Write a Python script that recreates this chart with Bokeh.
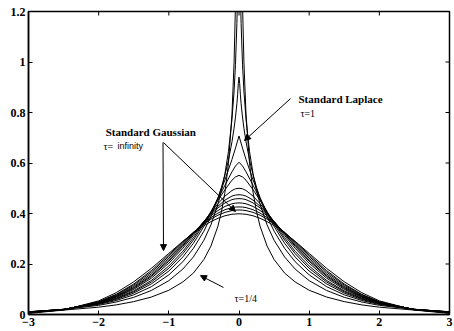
from bokeh.plotting import figure
from bokeh.models import Range1d, FixedTicker, Arrow, NormalHead, Label
from bokeh.embed import file_html
from bokeh.resources import INLINE

# ---------------- data ----------------
x_fine = [-3, -2.5, -2, -1.75, -1.5, -1.25, -1, -0.8, -0.65, -0.5, -0.4, -0.3, -0.25, -0.2, -0.15,
          -0.1, -0.07, -0.05, -0.03, -0.02, -0.01, 0, 0.01, 0.02, 0.03, 0.05, 0.07, 0.1, 0.15, 0.2,
          0.25, 0.3, 0.4, 0.5, 0.65, 0.8, 1, 1.25, 1.5, 1.75, 2, 2.5, 3]
x_coarse = [-3, -2.5, -2, -1.75, -1.5, -1.25, -1, -0.8, -0.65, -0.5, -0.4, -0.3, -0.2, -0.1, -0.05,
            0, 0.05, 0.1, 0.2, 0.3, 0.4, 0.5, 0.65, 0.8, 1, 1.25, 1.5, 1.75, 2, 2.5, 3]

# tau = 1/4, 1/2, 3/4 (on x_fine)
tau_1_4 = [0.0108, 0.0174, 0.029, 0.038, 0.051, 0.069, 0.096, 0.129, 0.164, 0.218, 0.271, 0.350,
           0.407, 0.484, 0.599, 0.793, 0.999, 1.231, 1.667, 2.102, 3.085, 4.47, 3.085, 2.102,
           1.667, 1.231, 0.999, 0.793, 0.599, 0.484, 0.407, 0.350, 0.271, 0.218, 0.164, 0.129,
           0.096, 0.069, 0.051, 0.038, 0.029, 0.0174, 0.0108]
tau_1_2 = [0.0111, 0.0198, 0.0363, 0.0495, 0.068, 0.095, 0.134, 0.180, 0.228, 0.294, 0.355, 0.437,
           0.491, 0.558, 0.646, 0.773, 0.885, 0.991, 1.153, 1.282, 1.503, 1.72, 1.503, 1.282,
           1.153, 0.991, 0.885, 0.773, 0.646, 0.558, 0.491, 0.437, 0.355, 0.294, 0.228, 0.180,
           0.134, 0.095, 0.068, 0.0495, 0.0363, 0.0198, 0.0111]
tau_3_4 = [0.0106, 0.0205, 0.0397, 0.0555, 0.078, 0.110, 0.157, 0.209, 0.262, 0.330, 0.388, 0.460,
           0.504, 0.553, 0.612, 0.684, 0.738, 0.782, 0.835, 0.870, 0.914, 0.94, 0.914, 0.870,
           0.835, 0.782, 0.738, 0.684, 0.612, 0.553, 0.504, 0.460, 0.388, 0.330, 0.262, 0.209,
           0.157, 0.110, 0.078, 0.0555, 0.0397, 0.0205, 0.0106]

# tau = 1 (Laplace) ... infinity (Gaussian) (on x_coarse)
tau_1 = [0.0102, 0.0206, 0.0418, 0.0595, 0.0848, 0.121, 0.172, 0.228, 0.282, 0.349, 0.402, 0.463,
         0.533, 0.614, 0.659, 0.707, 0.659, 0.614, 0.533, 0.463, 0.402, 0.349, 0.282, 0.228, 0.172,
         0.121, 0.0848, 0.0595, 0.0418, 0.0206, 0.0102]
tau_5_4 = [0.0097, 0.0206, 0.0432, 0.0624, 0.0898, 0.1285, 0.183, 0.241, 0.295, 0.3585, 0.406, 0.458,
           0.512, 0.565, 0.588, 0.603, 0.588, 0.565, 0.512, 0.458, 0.406, 0.3585, 0.295, 0.241,
           0.183, 0.1285, 0.0898, 0.0624, 0.0432, 0.0206, 0.0097]
tau_3_2 = [0.0093, 0.0205, 0.0443, 0.0647, 0.0937, 0.1345, 0.192, 0.2505, 0.304, 0.364, 0.407, 0.452,
           0.494, 0.532, 0.545, 0.551, 0.545, 0.532, 0.494, 0.452, 0.407, 0.364, 0.304, 0.2505,
           0.192, 0.1345, 0.0937, 0.0647, 0.0443, 0.0205, 0.0093]
tau_2 = [0.0087, 0.0202, 0.0458, 0.0679, 0.0996, 0.1436, 0.203, 0.2625, 0.313, 0.368, 0.404, 0.439,
         0.469, 0.491, 0.498, 0.500, 0.498, 0.491, 0.469, 0.439, 0.404, 0.368, 0.313, 0.2625, 0.203,
         0.1436, 0.0996, 0.0679, 0.0458, 0.0202, 0.0087]
tau_5_2 = [0.0082, 0.0200, 0.0468, 0.0703, 0.1038, 0.150, 0.211, 0.270, 0.319, 0.369, 0.400, 0.429,
           0.453, 0.469, 0.473, 0.4745, 0.473, 0.469, 0.453, 0.429, 0.400, 0.369, 0.319, 0.270,
           0.211, 0.150, 0.1038, 0.0703, 0.0468, 0.0200, 0.0082]
tau_3 = [0.0078, 0.0197, 0.0476, 0.0721, 0.107, 0.1545, 0.216, 0.274, 0.321, 0.368, 0.3965, 0.422,
         0.442, 0.455, 0.458, 0.459, 0.458, 0.455, 0.442, 0.422, 0.3965, 0.368, 0.321, 0.274, 0.216,
         0.1545, 0.107, 0.0721, 0.0476, 0.0197, 0.0078]
tau_4 = [0.0072, 0.0194, 0.0487, 0.0746, 0.1114, 0.1607, 0.223, 0.280, 0.324, 0.3656, 0.391, 0.412,
         0.428, 0.4385, 0.441, 0.442, 0.441, 0.4385, 0.428, 0.412, 0.391, 0.3656, 0.324, 0.280,
         0.223, 0.1607, 0.1114, 0.0746, 0.0487, 0.0194, 0.0072]
tau_6 = [0.0065, 0.0189, 0.0500, 0.0777, 0.1165, 0.1677, 0.2299, 0.2843, 0.3249, 0.3621, 0.3837,
         0.4016, 0.415, 0.4234, 0.4255, 0.426, 0.4255, 0.4234, 0.415, 0.4016, 0.3837, 0.3621,
         0.3249, 0.2843, 0.2299, 0.1677, 0.1165, 0.0777, 0.0500, 0.0189, 0.0065]
tau_10 = [0.0061, 0.0185, 0.0506, 0.0798, 0.1207, 0.1737, 0.2359, 0.2881, 0.3256, 0.359, 0.3778,
          0.3932, 0.4045, 0.4115, 0.4133, 0.414, 0.4133, 0.4115, 0.4045, 0.3932, 0.3778, 0.359,
          0.3256, 0.2881, 0.2359, 0.1737, 0.1207, 0.0798, 0.0506, 0.0185, 0.0061]
gaussian = [0.0044, 0.0175, 0.054, 0.0863, 0.1295, 0.1826, 0.242, 0.290, 0.323, 0.352, 0.368, 0.381,
            0.391, 0.397, 0.398, 0.399, 0.398, 0.397, 0.391, 0.381, 0.368, 0.352, 0.323, 0.290,
            0.242, 0.1826, 0.1295, 0.0863, 0.054, 0.0175, 0.0044]

fine_series = [tau_1_4, tau_1_2, tau_3_4]
coarse_series = [tau_1, tau_5_4, tau_3_2, tau_2, tau_5_2, tau_3, tau_4, tau_6, tau_10, gaussian]

x_ticks = [-3, -2, -1, 0, 1, 2, 3]
x_tick_labels = ["\u22123", "\u22122", "\u22121", "0", "1", "2", "3"]
y_ticks = [0, 0.2, 0.4, 0.6, 0.8, 1, 1.2]
y_tick_labels = ["0", "0.2", "0.4", "0.6", "0.8", "1", "1.2"]

X_MIN, X_MAX = -3, 3
Y_MIN, Y_MAX = 0, 1.2

# ---------------- figure ----------------
SERIF = "Liberation Serif"
SANS = "Liberation Sans"
W, H = 454, 331
B_LEFT, B_RIGHT, B_TOP, B_BOTTOM = 28, 5, 11, 17
TICK_PX = 4

p = figure(width=W, height=H, x_range=Range1d(X_MIN, X_MAX), y_range=Range1d(Y_MIN, Y_MAX),
           output_backend="svg", toolbar_location=None,
           min_border_left=B_LEFT, min_border_right=B_RIGHT,
           min_border_top=B_TOP, min_border_bottom=B_BOTTOM)
p.background_fill_color = "white"
p.border_fill_color = "white"
p.grid.visible = False
p.outline_line_color = "black"
p.outline_line_width = 1.5


def style_axis(ax, ticks, labels):
    ax.ticker = FixedTicker(ticks=ticks)
    ax.major_label_overrides = {t: l for t, l in zip(ticks, labels)}
    ax.major_tick_in = TICK_PX
    ax.major_tick_out = 0
    ax.minor_tick_line_color = None
    ax.axis_line_color = "black"
    ax.axis_line_width = 1.5
    ax.major_tick_line_color = "black"
    ax.major_tick_line_width = 1
    ax.major_label_text_font = SERIF
    ax.major_label_text_font_style = "bold"
    ax.major_label_text_color = "black"
    ax.major_label_text_font_size = "12px"
    ax.major_label_standoff = 3


style_axis(p.xaxis[0], x_ticks, x_tick_labels)
style_axis(p.yaxis[0], y_ticks, y_tick_labels)

# mirrored inward ticks on the top and right edges of the box
frame_w = W - B_LEFT - B_RIGHT
frame_h = H - B_TOP - B_BOTTOM
dy_tick = TICK_PX * (Y_MAX - Y_MIN) / frame_h
dx_tick = TICK_PX * (X_MAX - X_MIN) / frame_w
p.segment(x0=x_ticks, y0=[Y_MAX] * len(x_ticks), x1=x_ticks, y1=[Y_MAX - dy_tick] * len(x_ticks),
          line_color="black", line_width=1)
p.segment(x0=[X_MAX] * len(y_ticks), y0=y_ticks, x1=[X_MAX - dx_tick] * len(y_ticks), y1=y_ticks,
          line_color="black", line_width=1)

for ys in fine_series:
    p.line(x_fine, ys, line_color="black", line_width=1)
for ys in coarse_series:
    p.line(x_coarse, ys, line_color="black", line_width=1)

# ---------------- annotations ----------------
def add_label(x, y, text, font, size, style="normal"):
    p.add_layout(Label(x=x, y=y, text=text, text_font=font, text_font_size=size,
                       text_font_style=style, text_color="black", text_baseline="alphabetic",
                       text_align="left"))


def add_arrow(x0, y0, x1, y1):
    p.add_layout(Arrow(x_start=x0, y_start=y0, x_end=x1, y_end=y1, line_color="black",
                       line_width=1,
                       end=NormalHead(size=6, fill_color="black", line_color="black")))


GAUSS_TEXT = (-1.90, 0.721)
TAU_INF_SYM = (-1.93, 0.667)
TAU_INF_WORD = (-1.73, 0.667)
LAPLACE_TEXT = (0.848, 0.855)
TAU_ONE = (0.876, 0.798)
TAU_QUARTER = (-0.064, 0.063)

add_label(*GAUSS_TEXT, "Standard Gaussian", SERIF, "11px", "bold")
add_label(*TAU_INF_SYM, "\u03c4=", SERIF, "10px")
add_label(*TAU_INF_WORD, "infinity", SANS, "9px")
add_label(*LAPLACE_TEXT, "Standard Laplace", SERIF, "11px", "bold")
add_label(*TAU_ONE, "\u03c4=1", SERIF, "10px")
add_label(*TAU_QUARTER, "\u03c4=1/4", SERIF, "10px")

add_arrow(-1.083, 0.681, -1.076, 0.253)
add_arrow(-1.076, 0.681, -0.050, 0.408)
add_arrow(0.734, 0.855, 0.078, 0.689)
add_arrow(-0.221, 0.107, -0.549, 0.154)

open("out.html", "w").write(file_html(p, INLINE))
